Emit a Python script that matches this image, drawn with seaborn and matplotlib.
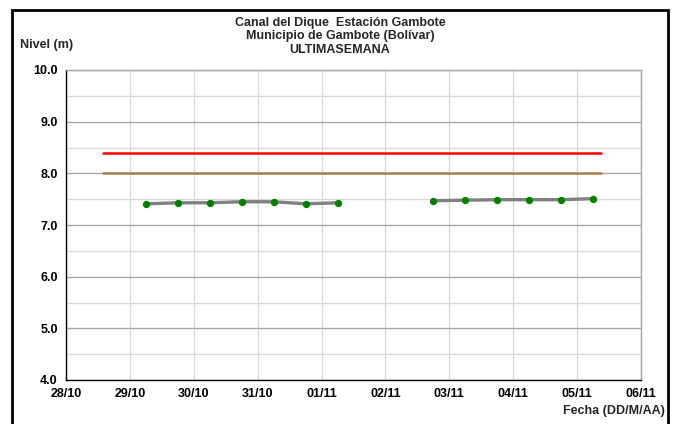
import pandas as pd
import matplotlib.pyplot as plt
import matplotlib.dates as mdates
from matplotlib.ticker import MultipleLocator
from matplotlib.patches import Rectangle
import seaborn as sns

# niveles (dos tramos, hay un hueco entre 01/11 y 02/11)
fechas_1 = ['2010-10-29 06:00', '2010-10-29 18:00', '2010-10-30 06:00', '2010-10-30 18:00',
            '2010-10-31 06:00', '2010-10-31 18:00', '2010-11-01 06:00']
niveles_1 = [7.41, 7.43, 7.43, 7.45, 7.45, 7.41, 7.43]
fechas_2 = ['2010-11-02 18:00', '2010-11-03 06:00', '2010-11-03 18:00', '2010-11-04 06:00',
            '2010-11-04 18:00', '2010-11-05 06:00']
niveles_2 = [7.47, 7.48, 7.49, 7.49, 7.49, 7.51]

# cotas de referencia
cota_alerta = 8.4
cota_desborde = 8.0
cotas_inicio = '2010-10-28 14:00'
cotas_fin = '2010-11-05 09:00'

x_min = '2010-10-28'
x_max = '2010-11-06'

df = pd.DataFrame({
    'Fecha': pd.to_datetime(fechas_1 + fechas_2),
    'Nivel': niveles_1 + niveles_2,
    'Tramo': ['a'] * len(fechas_1) + ['b'] * len(fechas_2),
})
cotas = pd.DataFrame({
    'Fecha': pd.to_datetime([cotas_inicio, cotas_fin] * 2),
    'Nivel': [cota_alerta, cota_alerta, cota_desborde, cota_desborde],
    'Cota': ['alerta', 'alerta', 'desborde', 'desborde'],
})

sns.set_style('white')
plt.rcParams['font.family'] = ['Liberation Sans', 'DejaVu Sans']

fig = plt.figure(figsize=(6.77, 4.24), dpi=100)
ax = fig.add_axes([66 / 677, 1 - 380 / 424, 575 / 677, 310 / 424])

ax.set_xlim(pd.Timestamp(x_min), pd.Timestamp(x_max))
ax.set_ylim(4.0, 10.0)

# grilla
ax.yaxis.set_major_locator(MultipleLocator(1.0))
ax.yaxis.set_minor_locator(MultipleLocator(0.5))
ax.xaxis.set_major_locator(mdates.DayLocator())
ax.xaxis.set_major_formatter(mdates.DateFormatter('%d/%m'))
ax.grid(which='major', axis='y', color='#a6a6a6', linewidth=1.0)
ax.grid(which='minor', axis='y', color='#d9d9d9', linewidth=1.0)
ax.grid(which='major', axis='x', color='#d9d9d9', linewidth=1.0)
ax.set_axisbelow(True)

sns.lineplot(data=cotas, x='Fecha', y='Nivel', hue='Cota',
             palette={'alerta': '#ff0000', 'desborde': '#a87c4f'},
             linewidth=1.8, legend=False, ax=ax)

for tramo, sub in df.groupby('Tramo'):
    sns.lineplot(data=sub, x='Fecha', y='Nivel', color='#808080', linewidth=2.4,
                 marker='o', markersize=4.5, markerfacecolor='#008000',
                 markeredgecolor='#008000', ax=ax)

ax.set_xlabel('')
ax.set_ylabel('')
ax.yaxis.set_major_formatter(plt.FuncFormatter(lambda v, p: f'{v:.1f}'))
ax.tick_params(axis='both', which='major', direction='out', length=4, width=0.8,
               labelsize=9, colors='#000000', pad=2)
ax.tick_params(axis='y', which='minor', length=0)
for lab in ax.get_xticklabels() + ax.get_yticklabels():
    lab.set_fontweight('bold')

for side in ['left', 'bottom']:
    ax.spines[side].set_color('#000000')
    ax.spines[side].set_linewidth(1.0)
for side in ['right', 'top']:
    ax.spines[side].set_color('#a6a6a6')
    ax.spines[side].set_linewidth(1.0)

fig.text(340 / 677, 1 - 17 / 424,
         'Canal del Dique  Estación Gambote\nMunicipio de Gambote (Bolívar)\nULTIMASEMANA',
         ha='center', va='top', fontsize=9, fontweight='bold', linespacing=1.15)
fig.text(20 / 677, 1 - 45 / 424, 'Nivel (m)', ha='left', va='center',
         fontsize=9, fontweight='bold')
fig.text(665 / 677, 1 - 411 / 424, 'Fecha (DD/M/AA)', ha='right', va='center',
         fontsize=9, fontweight='bold')

# marco exterior
fig.patches.append(Rectangle((12 / 677, -0.02), 656 / 677, 1 - 10 / 424 + 0.02,
                             transform=fig.transFigure, fill=False,
                             edgecolor='#000000', linewidth=2.0))

fig.savefig('out.png', dpi=100)
